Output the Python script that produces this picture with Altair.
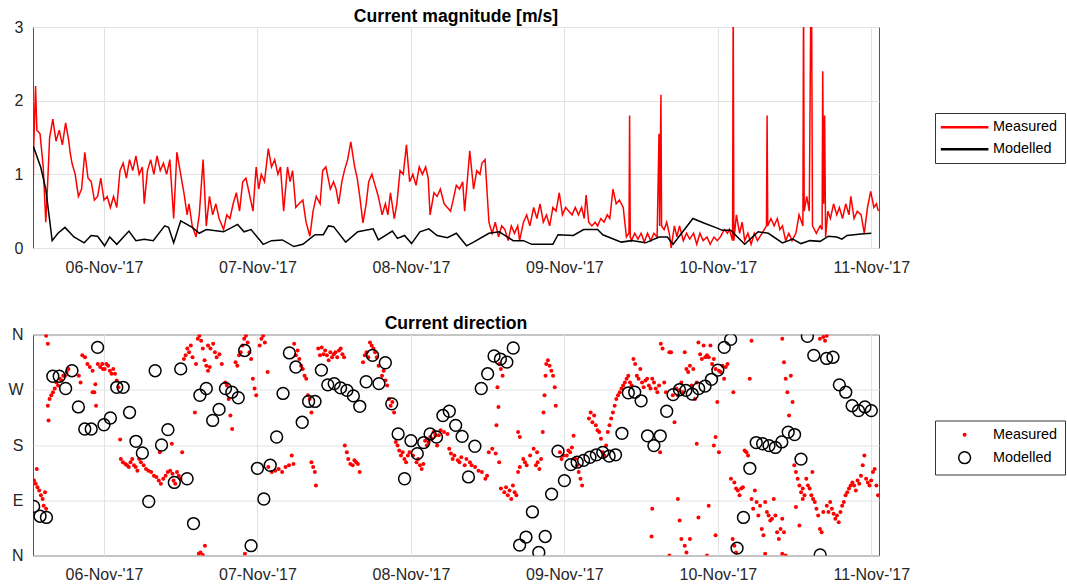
import altair as alt
import pandas as pd

BASE_DAY = "2017-11-05"
SERIES = ["Measured", "Modelled"]
COLORS_LINE = ["#ff0000", "#000000"]
TICK_DAYS = [6, 7, 8, 9, 10, 11]
DIR_TICKS = [0, 90, 180, 270, 360]
DIR_LABELS = ["N", "E", "S", "W", "N"]
MAG_TICKS = [0, 1, 2, 3]

# measured current magnitude: (hours after 05-Nov 00:00, m/s)
MEAS_MAG = [
    (12.9, 0.58), (13.0, 1.35), (13.3, 2.2), (13.5, 1.6), (14.0, 1.55), (14.5, 1.1), (14.9, 0.35),
    (15.2, 0.9), (15.5, 1.5), (16.0, 1.75), (16.5, 1.45), (17.0, 1.6), (17.5, 1.4), (18.0, 1.7),
    (18.5, 1.45), (18.7, 1.3), (19.0, 1.15), (19.5, 1.0), (20.0, 0.7), (20.5, 0.8), (21.0, 1.3),
    (21.5, 0.95), (22.0, 0.9), (22.5, 0.65), (23.0, 0.7), (23.5, 0.95), (24.0, 0.65), (24.5, 0.7),
    (25.0, 0.55), (25.5, 0.7), (26.0, 0.55), (26.5, 1.05), (27.0, 1.15), (27.5, 0.95), (28.0, 1.2),
    (28.5, 1.05), (29.0, 1.25), (29.5, 1.0), (30.0, 1.1), (30.3, 0.6), (30.8, 1.05), (31.3, 1.2),
    (31.8, 1.0), (32.3, 1.25), (32.8, 1.05), (33.3, 1.15), (33.8, 1.0), (34.3, 1.2), (34.9, 0.4),
    (35.4, 1.3), (36.0, 1.0), (36.5, 0.75), (37.0, 0.45), (37.3, 0.6), (37.8, 0.3), (38.4, 0.15),
    (38.9, 0.45), (39.5, 1.2), (40.0, 0.3), (40.5, 0.7), (41.0, 0.45), (41.5, 0.6), (42.0, 0.4),
    (42.7, 0.25), (43.2, 0.45), (43.7, 0.4), (44.2, 0.6), (44.7, 0.75), (45.2, 0.5), (45.7, 0.9),
    (46.2, 0.95), (46.7, 0.75), (47.3, 0.5), (47.8, 1.1), (48.2, 0.8), (48.6, 1.0), (49.1, 0.9),
    (49.7, 1.35), (50.2, 1.1), (50.7, 1.2), (51.2, 1.0), (51.6, 1.1), (52.1, 0.5), (52.7, 1.1),
    (53.1, 0.9), (53.5, 1.05), (54.0, 0.55), (54.5, 0.6), (55.1, 0.65), (55.6, 0.35), (56.2, 0.16),
    (56.7, 0.5), (57.2, 0.7), (57.8, 0.6), (58.2, 1.05), (58.7, 1.1), (59.4, 0.8), (59.9, 0.9),
    (60.3, 0.8), (60.7, 0.6), (61.2, 0.9), (61.6, 1.05), (62.1, 1.2), (62.6, 1.44), (63.2, 1.1),
    (63.6, 0.95), (64.0, 0.7), (64.5, 0.34), (65.0, 0.6), (65.4, 0.9), (65.9, 1.0), (66.4, 0.85),
    (66.9, 0.7), (67.5, 0.45), (68.0, 0.6), (68.4, 0.45), (68.8, 0.75), (69.4, 0.4), (69.8, 0.6),
    (70.3, 1.05), (70.8, 1.0), (71.3, 1.4), (71.8, 0.9), (72.3, 1.0), (72.8, 0.85), (73.3, 1.1),
    (73.8, 1.0), (74.3, 1.1), (74.7, 0.95), (75.0, 0.45), (75.6, 0.75), (76.1, 0.7), (76.6, 0.8),
    (77.2, 0.6), (77.7, 0.55), (78.2, 0.5), (78.6, 0.65), (79.1, 0.85), (79.6, 0.8), (80.1, 0.9),
    (80.4, 0.5), (80.8, 0.9), (81.2, 1.32), (81.8, 0.8), (82.3, 1.05), (82.8, 1.0), (83.1, 1.15),
    (83.6, 1.2), (84.2, 0.35), (84.7, 0.2), (85.2, 0.35), (85.7, 0.15), (86.2, 0.3), (86.7, 0.25),
    (87.2, 0.1), (87.7, 0.3), (88.2, 0.2), (88.7, 0.3), (89.0, 0.1), (89.6, 0.35), (90.1, 0.45),
    (90.6, 0.3), (91.2, 0.55), (91.7, 0.4), (92.2, 0.6), (92.7, 0.35), (93.2, 0.45), (93.7, 0.3),
    (94.2, 0.55), (94.7, 0.5), (95.2, 0.75), (95.7, 0.45), (96.2, 0.55), (96.7, 0.5), (97.2, 0.45),
    (97.7, 0.55), (98.2, 0.45), (98.7, 0.55), (99.1, 0.4), (99.4, 0.72), (99.8, 0.35), (100.3, 0.3),
    (100.8, 0.35), (101.2, 0.3), (101.7, 0.4), (102.2, 0.35), (102.7, 0.45), (103.1, 0.4),
    (103.6, 0.8), (104.1, 0.6), (104.6, 0.65), (105.2, 0.55), (105.7, 0.15), (106.1, 0.2),
    (106.2, 1.8), (106.3, 0.15), (106.5, 0.1), (107.0, 0.2), (107.5, 0.12), (108.0, 0.2),
    (108.5, 0.08), (109.0, 0.2), (109.5, 0.1), (110.0, 0.2), (110.5, 0.15), (110.8, 1.55),
    (110.9, 0.3), (111.1, 2.08), (111.2, 0.3), (111.6, 0.25), (112.0, 0.35), (112.4, 0.2),
    (112.7, 0.0), (113.2, 0.3), (113.6, 0.15), (114.0, 0.3), (114.6, 0.1), (115.1, 0.2),
    (115.6, 0.12), (116.2, 0.2), (116.7, 0.05), (117.2, 0.2), (117.7, 0.1), (118.3, 0.15),
    (118.8, 0.05), (119.4, 0.15), (119.9, 0.1), (120.4, 0.15), (121.0, 0.25), (121.5, 0.2),
    (121.8, 0.25), (122.3, 0.1), (122.4, 3.5), (122.5, 0.1), (122.9, 0.45), (123.4, 0.2),
    (123.8, 0.35), (124.2, 0.1), (124.7, 0.2), (125.2, 0.05), (125.7, 0.2), (126.2, 0.1),
    (126.9, 0.2), (127.6, 0.3), (127.7, 1.8), (127.8, 0.3), (128.3, 0.4), (128.8, 0.3),
    (129.3, 0.4), (129.7, 0.25), (130.1, 0.3), (130.6, 0.1), (131.1, 0.2), (131.6, 0.1),
    (132.2, 0.2), (132.7, 0.45), (133.3, 0.3), (133.4, 3.5), (133.5, 0.5), (133.9, 0.7),
    (134.3, 0.5), (134.55, 3.5), (134.65, 3.5), (134.8, 0.3), (135.4, 0.2), (136.0, 0.3),
    (136.3, 0.25), (136.4, 2.4), (136.55, 0.6), (136.7, 1.8), (136.85, 0.15), (137.2, 0.5),
    (137.6, 0.4), (138.1, 0.6), (138.6, 0.45), (139.0, 0.55), (139.5, 0.4), (140.0, 0.6),
    (140.5, 0.45), (140.8, 0.7), (141.3, 0.4), (141.8, 0.5), (142.4, 0.45), (142.9, 0.2),
    (143.4, 0.55), (143.9, 0.77), (144.4, 0.55), (144.8, 0.6), (145.1, 0.5),
]

# modelled current magnitude: (hours, m/s)
MOD_MAG = [
    (12.95, 1.38), (14.1, 1.1), (14.9, 0.8), (15.9, 0.1), (16.8, 0.2), (17.9, 0.28), (19.3, 0.15),
    (20.9, 0.07), (22.0, 0.17), (23.0, 0.16), (24.1, 0.03), (24.9, 0.15), (26.0, 0.05), (27.9, 0.23),
    (29.0, 0.1), (30.3, 0.12), (31.7, 0.1), (33.5, 0.3), (34.1, 0.28), (34.9, 0.07), (36.0, 0.37),
    (37.8, 0.28), (38.9, 0.2), (40.0, 0.25), (42.7, 0.22), (44.9, 0.32), (45.9, 0.22), (47.0, 0.25),
    (48.9, 0.05), (50.2, 0.1), (51.9, 0.11), (53.7, 0.02), (55.1, 0.05), (57.0, 0.18), (58.3, 0.18),
    (59.1, 0.3), (59.9, 0.29), (61.8, 0.08), (63.7, 0.22), (66.1, 0.26), (66.9, 0.11), (69.1, 0.23),
    (69.9, 0.13), (71.0, 0.17), (72.1, 0.06), (73.4, 0.22), (74.8, 0.26), (76.1, 0.17), (77.7, 0.14),
    (79.1, 0.2), (80.7, 0.03), (81.8, 0.08), (84.2, 0.2), (85.8, 0.22), (88.0, 0.1), (89.6, 0.1),
    (90.9, 0.05), (94.2, 0.05), (95.0, 0.18), (97.4, 0.17), (99.0, 0.25), (101.2, 0.25), (102.0, 0.18),
    (104.9, 0.08), (106.5, 0.1), (108.7, 0.07), (110.8, 0.15), (112.1, 0.15), (113.0, 0.05),
    (116.1, 0.4), (117.8, 0.34), (119.9, 0.27), (120.7, 0.24), (122.0, 0.24), (124.2, 0.05),
    (126.3, 0.22), (127.9, 0.2), (130.1, 0.07), (131.7, 0.12), (133.0, 0.06), (134.4, 0.1),
    (136.0, 0.09), (137.3, 0.16), (138.6, 0.15), (139.4, 0.12), (140.2, 0.17), (142.4, 0.19),
    (144.0, 0.2),
]

# modelled direction, hourly from 05-Nov 13:00 (degrees)
MOD_DIR_START_H = 13
MOD_DIR = [
    80, 64, 62, 292, 292, 272, 301, 242, 206, 206, 339, 213, 224, 274, 274, 233, 186, 167, 88, 301,
    180, 205, 119, 304, 125, 52, 261, 272, 220, 238, 272, 266, 257, 334, 16, 142, 92, 147, 193, 264,
    330, 307, 217, 251, 251, 302, 278, 280, 273, 269, 260, 243, 283, 326, 280, 314, 247, 198, 125, 187,
    166, 184, 198, 193, 228, 235, 212, 194, 128, 178, 272, 296, 325, 320, 315, 338, 17, 30, 71, 5,
    31, 100, 170, 122, 148, 152, 155, 160, 164, 168, 162, 164, 199, 265, 266, 252, 195, 179, 195, 235,
    262, 270, 269, 263, 272, 276, 287, 302, 339, 352, 12, 62, 142, 184, 182, 179, 176, 185, 201, 197,
    157, 357, 326, 1, 321, 323, 278, 266, 244, 236, 242, 236,
]

# measured direction: (hours, degrees)
MEAS_DIR = [
    (12.79, 125), (13.06, 122), (13.33, 117), (13.49, 141), (13.6, 111), (13.87, 106), (14.14, 98),
    (14.41, 92), (14.57, 81), (14.79, 103), (14.95, 76), (14.95, 358), (15.22, 345), (15.33, 220),
    (15.22, 244),
    (15.49, 255), (15.76, 261), (16.03, 266), (16.3, 272), (16.56, 282), (16.83, 277), (17.1, 288),
    (17.37, 285), (17.64, 293), (17.91, 293), (18.18, 299), (18.45, 304), (20.07, 293), (20.34, 282),
    (22.49, 266), (22.76, 244),
    (20.61, 326), (21.04, 323), (21.41, 312), (21.79, 307), (22.22, 301), (22.65, 279), (23.03, 312),
    (23.41, 307), (23.73, 312), (23.84, 304), (22.22, 266),
    (24.11, 304), (24.38, 312), (24.65, 309), (24.92, 301), (25.19, 296), (25.45, 304), (25.72, 296),
    (25.99, 285), (26.26, 274),
    (26.53, 189), (26.64, 157), (26.96, 152), (27.34, 149), (27.61, 147), (27.88, 144), (28.15, 152),
    (28.42, 157), (28.69, 147), (28.96, 144), (29.23, 138),
    (29.5, 157), (29.77, 152), (30.2, 147), (30.57, 141), (30.95, 138), (31.38, 136), (31.81, 130),
    (32.19, 128), (32.57, 122), (32.89, 117), (33.27, 125), (33.64, 130), (33.97, 136), (34.34, 138),
    (34.72, 133), (32.73, 168), (34.61, 182), (36.23, 168),
    (34.88, 122), (35.15, 117), (35.42, 136), (35.69, 130), (35.96, 125),
    (38.22, 233), (36.5, 320), (36.77, 326), (37.04, 337), (37.31, 331), (37.58, 342), (37.85, 323),
    (38.39, 312), (38.66, 353), (38.92, 358), (39.19, 350), (39.46, 337), (39.73, 318), (40.0, 309),
    (38.82, 3), (39.09, 5), (39.46, 1), (39.79, 16),
    (40.27, 342), (40.65, 337), (41.08, 345), (41.35, 331), (41.62, 323), (42.05, 328), (42.43, 312),
    (42.97, 282), (43.23, 277), (43.5, 255), (43.77, 228), (44.04, 206), (40.27, 301), (40.54, 307),
    (44.58, 315), (44.85, 309), (45.12, 326), (45.39, 331), (45.66, 342), (45.93, 353), (46.2, 358),
    (46.47, 347), (46.74, 331), (47.01, 320), (47.28, 288), (47.55, 272), (47.81, 261), (46.04, 3),
    (48.35, 342), (48.62, 353), (48.89, 358), (49.16, 347), (49.59, 299),
    (49.7, 144), (50.24, 136), (50.78, 138), (51.32, 141), (51.86, 136), (52.39, 144), (52.93, 147),
    (53.36, 163), (53.63, 149),
    (53.74, 345), (54.01, 326), (54.28, 334), (54.55, 320), (54.82, 309), (55.09, 304), (55.36, 293),
    (55.63, 288), (55.9, 261), (56.17, 255), (56.44, 233),
    (56.44, 152), (56.71, 144), (56.97, 136), (57.14, 114),
    (57.51, 337), (57.78, 326), (58.05, 339), (58.32, 328), (58.59, 334), (58.86, 326), (59.13, 318),
    (59.4, 331), (59.67, 323), (59.94, 328), (60.21, 331), (60.48, 323), (60.75, 334), (61.02, 337),
    (61.28, 328), (61.55, 323),
    (61.66, 179), (61.98, 168), (62.2, 157), (62.52, 149), (62.9, 147), (63.17, 155), (63.44, 152),
    (63.71, 149), (63.98, 136),
    (64.52, 315), (64.79, 326), (65.06, 331), (65.33, 323), (65.6, 347), (65.86, 342), (66.13, 337),
    (66.4, 331), (66.67, 323), (66.94, 309), (67.48, 293), (67.75, 301), (68.02, 285), (68.29, 277),
    (68.56, 255), (68.83, 244), (69.1, 250), (69.37, 233),
    (69.64, 185), (69.91, 179), (70.17, 171), (70.44, 163), (70.71, 168), (70.98, 157), (71.25, 152),
    (71.52, 163), (71.79, 168), (72.33, 163), (72.87, 152), (73.14, 157), (73.41, 147), (73.68, 141),
    (73.95, 149),
    (74.22, 187), (74.49, 179), (74.75, 185), (75.02, 193), (75.29, 190), (75.56, 201), (75.83, 196),
    (76.1, 179), (76.37, 196), (76.64, 204), (77.18, 201), (77.72, 198),
    (77.99, 174), (78.26, 166), (78.53, 157), (78.79, 163), (79.33, 155), (79.6, 152), (79.87, 160),
    (80.41, 147), (80.68, 157), (81.22, 152), (81.49, 147), (82.03, 144), (82.57, 138), (83.1, 136),
    (83.64, 125), (83.91, 130), (84.18, 168), (84.72, 174), (85.26, 166), (85.8, 152),
    (86.07, 109), (86.61, 103), (86.88, 111), (87.15, 98), (87.42, 106), (87.69, 92), (87.95, 114),
    (88.22, 103), (88.49, 98), (88.76, 136), (89.03, 144), (85.53, 274), (85.69, 242), (85.37, 212),
    (88.76, 201), (89.03, 193), (85.8, 312), (86.07, 304), (86.34, 293),
    (89.57, 157), (90.1, 147), (90.64, 163), (91.19, 174), (91.73, 168), (89.84, 152),
    (91.55, 147), (91.82, 152), (92.09, 141), (92.35, 157),
    (92.89, 261), (93.05, 293), (93.16, 312), (93.42, 318), (93.69, 309), (93.96, 301), (94.23, 293),
    (94.49, 274), (94.65, 244), (92.62, 201), (92.73, 233),
    (95.3, 168), (95.56, 157), (95.83, 163), (96.37, 163), (96.63, 171), (96.9, 168), (97.17, 176),
    (97.44, 195), (97.7, 157), (97.97, 147), (98.24, 136), (98.51, 125), (98.77, 114),
    (99.84, 223), (100.11, 233), (100.38, 217), (100.65, 228), (100.91, 212), (101.18, 204),
    (101.45, 201), (101.72, 190), (101.98, 168), (102.25, 163), (102.52, 179), (102.79, 201),
    (103.05, 212), (103.32, 223),
    (103.59, 233), (103.86, 244), (104.12, 255), (104.39, 261), (104.66, 266), (104.93, 272),
    (105.19, 277), (105.46, 282), (105.73, 288), (106.0, 293), (106.26, 282), (106.53, 277),
    (106.8, 320), (107.07, 312), (107.33, 293), (107.6, 288), (107.87, 304), (108.14, 282),
    (108.4, 274), (108.67, 285), (108.94, 288), (109.21, 277), (109.47, 272), (109.74, 288),
    (110.01, 282), (110.28, 272), (110.54, 266), (110.81, 277), (111.08, 345), (111.35, 337),
    (111.61, 282), (111.88, 266), (112.42, 331), (112.68, 331), (112.95, 261),
    (109.74, 76), (109.63, 31), (110.97, 168), (112.42, 0), (113.22, 217),
    (113.49, 272), (113.75, 261), (114.02, 269), (114.29, 282), (114.56, 266), (114.82, 331),
    (115.09, 304), (115.36, 299), (115.63, 309), (115.89, 277), (116.16, 304), (116.43, 255),
    (116.7, 282), (116.96, 347), (117.23, 328), (117.5, 320), (117.77, 342), (118.03, 323),
    (118.3, 326), (118.57, 323), (118.84, 342), (119.1, 312), (119.37, 320), (119.64, 304),
    (119.91, 250), (120.17, 301), (120.44, 299), (120.71, 309), (120.98, 288), (121.24, 307),
    (121.51, 312),
    (113.75, 92), (114.02, 57), (114.29, 27), (114.82, 16), (115.09, 5), (115.63, 27), (116.96, 62),
    (118.3, 0), (118.57, 81), (119.37, 179), (119.64, 33), (120.17, 168), (116.7, 182), (119.64, 193),
    (122.05, 125), (122.58, 119), (122.85, 109), (123.12, 106), (123.39, 98), (123.65, 109),
    (123.92, 111), (124.19, 171), (124.46, 168), (124.72, 163), (124.99, 288), (125.26, 350),
    (122.42, 266), (122.31, 27), (122.58, 16), (122.85, 5),
    (125.26, 92), (125.52, 76), (125.79, 106), (126.06, 87), (126.33, 65), (126.6, 81), (126.86, 43),
    (127.13, 33), (127.4, 87), (127.67, 71), (127.93, 65), (128.2, 57), (128.47, 60), (128.74, 92),
    (129.0, 65), (129.27, 38), (129.54, 27), (129.81, 43), (130.07, 60), (130.34, 38), (130.61, 0),
    (127.4, 3), (130.07, 3),
    (130.07, 353), (130.34, 315), (130.61, 288), (130.87, 266), (131.14, 228), (131.41, 293),
    (131.68, 250),
    (131.95, 147), (132.21, 136), (132.48, 125), (132.75, 114), (133.02, 103), (133.28, 109),
    (133.55, 98), (132.21, 79), (132.75, 49), (133.28, 92),
    (133.82, 125), (134.09, 114), (134.35, 109), (134.62, 98), (134.89, 92), (135.16, 87),
    (135.42, 76), (135.69, 65), (135.96, 43), (136.23, 38), (136.49, 71), (134.78, 136),
    (135.96, 353), (136.49, 356), (136.76, 350), (137.03, 358),
    (137.03, 81), (137.3, 71), (137.56, 87), (137.83, 76), (138.1, 68), (138.37, 60), (138.63, 65),
    (138.9, 54), (139.17, 71), (139.44, 81), (139.7, 87), (139.97, 98), (140.24, 103), (140.51, 109),
    (140.77, 114),
    (141.04, 119), (141.31, 114), (141.58, 106), (141.84, 122), (142.11, 117), (142.38, 130),
    (142.65, 147), (142.91, 163), (143.18, 125), (143.45, 119), (143.72, 114), (143.98, 122),
    (144.25, 136), (144.52, 141), (144.79, 114), (145.05, 98),
]

FONT = "Liberation Sans"
base = pd.Timestamp(BASE_DAY)


def ts(h):
    return (base + pd.Timedelta(hours=float(h))).strftime("%Y-%m-%dT%H:%M:%S")


mag_rows = [{"series": SERIES[0], "t": ts(h), "v": v} for h, v in MEAS_MAG]
mag_rows += [{"series": SERIES[1], "t": ts(h), "v": v} for h, v in MOD_MAG]
mag_df = pd.DataFrame(mag_rows)

dir_rows = [{"series": SERIES[0], "t": ts(h), "d": d} for h, d in MEAS_DIR]
dir_rows += [{"series": SERIES[1], "t": ts(MOD_DIR_START_H + i), "d": d} for i, d in enumerate(MOD_DIR)]
dir_df = pd.DataFrame(dir_rows)

x_domain = [
    alt.DateTime(year=2017, month=11, date=5, hours=12, minutes=54),
    alt.DateTime(year=2017, month=11, date=11, hours=1, minutes=12),
]
x_ticks = [alt.DateTime(year=2017, month=11, date=d) for d in TICK_DAYS]

x_axis = alt.Axis(
    values=x_ticks, format="%d-%b-'%y", labelFlush=False, labelOverlap=False,
    ticks=False, labelPadding=11, domain=False,
)

label_expr = " : ".join(
    f"datum.value == {v} ? '{l}'" for v, l in zip(DIR_TICKS, DIR_LABELS)
) + " : ''"

W, H = 846, 221


def make_legend():
    return alt.Legend(
        orient="none", legendX=902, legendY=86, padding=7, rowPadding=7.0,
        symbolOffset=15.4, labelOffset=21.3, strokeColor="#333333", fillColor="#ffffff",
        labelFont=FONT, labelFontSize=14.4, labelColor="#000000", cornerRadius=0,
    )


top_legend = make_legend()
top_legend["symbolType"] = "M-4.76,0L4.76,0"
top_legend["symbolSize"] = 100
top_legend["symbolStrokeWidth"] = 2.5

top = alt.Chart(mag_df).mark_line(strokeWidth=1.5, clip=True).encode(
    x=alt.X("t:T", scale=alt.Scale(domain=x_domain), axis=x_axis, title=None),
    y=alt.Y("v:Q", scale=alt.Scale(domain=[0, 3]),
            axis=alt.Axis(values=MAG_TICKS, ticks=False, labelPadding=10, domain=False),
            title=None),
    color=alt.Color("series:N", scale=alt.Scale(domain=SERIES, range=COLORS_LINE),
                    legend=top_legend, title=None),
).properties(
    width=W, height=H,
    title=alt.TitleParams("Current magnitude [m/s]", anchor="middle", offset=-6.5),
)

leg2 = make_legend()
bottom = alt.Chart(dir_df).mark_point(shape="circle", opacity=1, clip=True).encode(
    x=alt.X("t:T", scale=alt.Scale(domain=x_domain), axis=x_axis, title=None),
    y=alt.Y("d:Q", scale=alt.Scale(domain=[0, 360]),
            axis=alt.Axis(values=DIR_TICKS, labelExpr=label_expr, ticks=False,
                          labelPadding=10, domain=False),
            title=None),
    fill=alt.Fill("series:N", scale=alt.Scale(domain=SERIES, range=["#ff0000", "transparent"]),
                  legend=leg2, title=None),
    stroke=alt.Stroke("series:N", scale=alt.Scale(domain=SERIES, range=["#ff0000", "#000000"]),
                      legend=leg2, title=None),
    size=alt.Size("series:N", scale=alt.Scale(domain=SERIES, range=[16, 140]),
                  legend=leg2, title=None),
    strokeWidth=alt.StrokeWidth("series:N", scale=alt.Scale(domain=SERIES, range=[0, 1.5]),
                                legend=leg2, title=None),
).properties(
    width=W, height=H,
    title=alt.TitleParams("Current direction", anchor="middle", offset=-6.5),
)

chart = alt.vconcat(top, bottom, spacing=38.5).resolve_scale(
    color="independent", fill="independent", stroke="independent",
    size="independent", strokeWidth="independent",
).resolve_legend(
    color="independent", fill="independent", stroke="independent",
    size="independent", strokeWidth="independent",
).properties(
    padding={"left": 7, "top": 7, "right": 0, "bottom": 0},
    background="#ffffff",
).configure_view(
    stroke="#555555", strokeWidth=1,
).configure_axis(
    labelFont=FONT, labelFontSize=16, labelColor="#262626",
    gridColor="#e2e2e2", gridWidth=1,
).configure_title(
    font=FONT, fontSize=17.6, fontWeight="bold", color="#000000",
)

chart.save("out.html", embed_options={"renderer": "svg", "actions": False})
